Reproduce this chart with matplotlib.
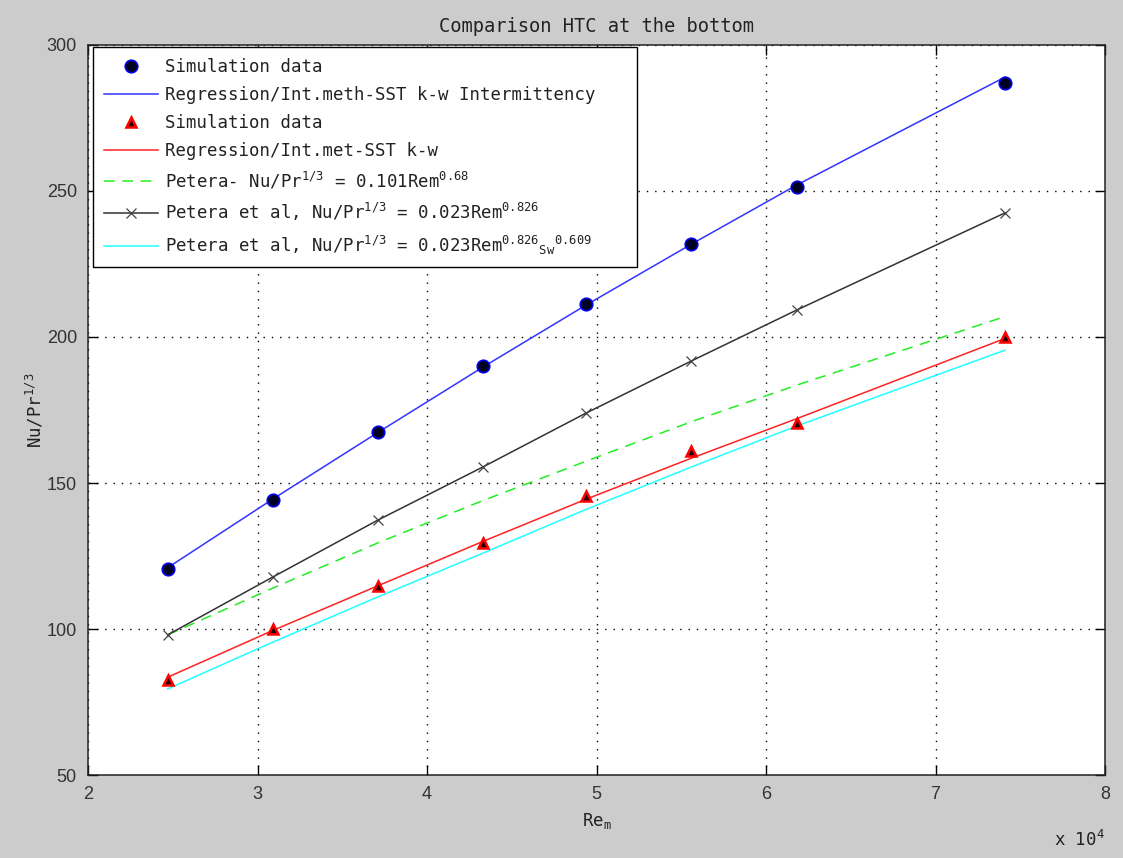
import matplotlib
matplotlib.use("Agg")
import matplotlib.pyplot as plt
from matplotlib.ticker import FuncFormatter, MultipleLocator

# Reynolds numbers (Re_m) of the simulated cases
re_m = [24700, 30900, 37100, 43300, 49400, 55600, 61800, 74100]

# Intermittency model: simulation points and regression curve
sim_int = [120.5, 144.3, 167.5, 190.0, 211.3, 232.0, 251.5, 287.0]
reg_int = [121.0, 144.5, 167.3, 189.7, 211.0, 231.8, 252.0, 289.0]

# SST k-w model: simulation points and regression curve
sim_sst = [82.5, 100.0, 114.7, 129.5, 145.5, 161.0, 170.5, 200.0]
reg_sst = [83.5, 99.5, 114.8, 130.0, 144.5, 158.5, 172.0, 199.5]

# Petera correlations
petera_068 = [98.0, 114.0, 129.5, 144.0, 157.5, 171.0, 183.5, 207.0]
petera_0826 = [98.0, 117.8, 137.3, 155.5, 174.0, 191.8, 209.2, 242.5]
petera_sw = [79.5, 95.5, 111.0, 126.0, 141.0, 155.5, 169.5, 195.5]

labels = [
    "Simulation data",
    "Regression/Int.meth-SST k-w Intermittency",
    "Simulation data",
    "Regression/Int.met-SST k-w",
    r"Petera- Nu/Pr$^{1/3}$ = 0.101Rem$^{0.68}$",
    r"Petera et al, Nu/Pr$^{1/3}$ = 0.023Rem$^{0.826}$",
    r"Petera et al, Nu/Pr$^{1/3}$ = 0.023Rem$^{0.826}$$_{\mathrm{Sw}}$$^{0.609}$",
]

plt.rcParams["mathtext.fontset"] = "custom"
plt.rcParams["mathtext.rm"] = "DejaVu Sans Mono"
plt.rcParams["mathtext.it"] = "DejaVu Sans Mono"
plt.rcParams["mathtext.default"] = "rm"

mono = "DejaVu Sans Mono"
sans = "Liberation Sans"

fig = plt.figure(figsize=(11.23, 8.58), dpi=100, facecolor="#cccccc")
ax = fig.add_axes([0.0784, 0.0967, 0.9056, 0.8509])
ax.set_facecolor("white")

h1, = ax.plot(re_m, sim_int, "o", color="blue", mfc="#000022", mec="#0000ee",
              ms=9, mew=1.2, linestyle="none", zorder=4)
h2, = ax.plot(re_m, reg_int, "-", color="#3333ff", lw=1.1, zorder=3)
h3, = ax.plot(re_m, sim_sst, "^", color="red", mfc="#220000", mec="red",
              ms=7.5, mew=1.8, linestyle="none", zorder=4)
h4, = ax.plot(re_m, reg_sst, "-", color="#ff2222", lw=1.1, zorder=3)
h5, = ax.plot(re_m, petera_068, color="#22ee22", lw=1.1, dashes=(7, 5), zorder=3)
h6, = ax.plot(re_m, petera_0826, "-", color="#333333", lw=1.1, marker="x",
              ms=6.5, mew=0.9, mec="#444444", zorder=3)
h7, = ax.plot(re_m, petera_sw, "-", color="#22ffff", lw=1.1, zorder=3)

ax.set_xlim(20000, 80000)
ax.set_ylim(50, 300)
ax.xaxis.set_major_locator(MultipleLocator(10000))
ax.yaxis.set_major_locator(MultipleLocator(50))
ax.xaxis.set_major_formatter(FuncFormatter(lambda v, p: f"{v / 1e4:g}"))

ax.grid(True, color="black", linestyle=(0, (1, 5)), lw=1.0)
ax.tick_params(direction="in", top=True, right=True, length=7, width=1,
               labelsize=13, pad=8, colors="black")
for lab in ax.get_xticklabels() + ax.get_yticklabels():
    lab.set_fontfamily(sans)
    lab.set_color("#333333")
for sp in ax.spines.values():
    sp.set_linewidth(1.1)
    sp.set_color("#222222")

ax.set_title("Comparison HTC at the bottom", fontsize=13.5, family=mono,
             color="#222222", pad=9)
ax.set_xlabel(r"Re$_{\mathrm{m}}$", fontsize=12.5, family=mono, color="#222222",
              labelpad=6)
ax.set_ylabel(r"Nu/Pr$^{1/3}$", fontsize=12.5, family=mono, color="#222222",
              labelpad=1)
ax.text(1.0, -0.075, r"x 10$^{4}$", transform=ax.transAxes, ha="right",
        va="top", fontsize=12.5, family=mono, color="#222222")

leg = ax.legend([h1, h2, h3, h4, h5, h6, h7], labels, loc="upper left",
                bbox_to_anchor=(0.005, 0.9, 0.535, 0.097), mode="expand",
                borderaxespad=0,
                prop={"family": mono, "size": 12.5}, frameon=True,
                fancybox=False, edgecolor="black", framealpha=1,
                handlelength=3.1, handletextpad=0.4, labelspacing=0.58,
                borderpad=0.62, numpoints=1)
leg.get_frame().set_linewidth(1.0)
leg.set_zorder(10)
for t in leg.get_texts():
    t.set_color("#222222")

fig.savefig("out.png", dpi=100, facecolor=fig.get_facecolor())
